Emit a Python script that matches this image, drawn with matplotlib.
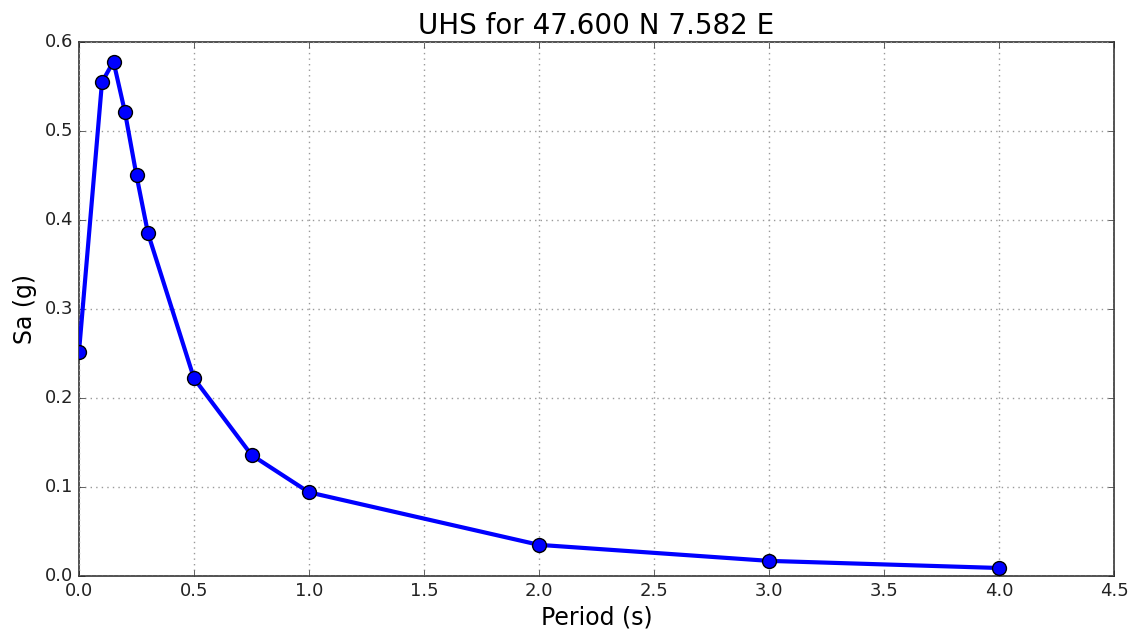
import matplotlib
matplotlib.use("Agg")
import matplotlib.pyplot as plt

periods = [0.0, 0.1, 0.15, 0.2, 0.25, 0.3, 0.5, 0.75, 1.0, 2.0, 3.0, 4.0]
sa = [0.252, 0.555, 0.578, 0.521, 0.450, 0.385, 0.222, 0.136, 0.094, 0.035, 0.017, 0.009]
lat, lon = 47.600, 7.582

plt.style.use("classic")
fig = plt.figure(figsize=(11.35, 6.33), dpi=100)
ax = fig.add_axes([79 / 1135, 57 / 633, 1035 / 1135, 534 / 633])

ax.plot(periods, sa, "-o", color="blue", linewidth=3, markersize=10,
        markerfacecolor="blue", markeredgecolor="black", markeredgewidth=1,
        zorder=3)

ax.set_xlim(0, 4.5)
ax.set_ylim(0, 0.6)
ax.set_xticks([i * 0.5 for i in range(10)])
ax.set_yticks([i * 0.1 for i in range(7)])
ax.grid(True, linestyle=":", color="#999999", linewidth=1)
ax.tick_params(labelsize=13, direction="in", length=4, colors="#222222")
for s in ax.spines.values():
    s.set_color("#333333")
    s.set_linewidth(1.2)

ax.set_title("UHS for %.3f N %.3f E" % (lat, lon), fontsize=20, pad=6)
ax.set_xlabel("Period (s)", fontsize=17, labelpad=4)
ax.set_ylabel("Sa (g)", fontsize=17, labelpad=6)

fig.savefig("out.png", dpi=100, facecolor="white")
